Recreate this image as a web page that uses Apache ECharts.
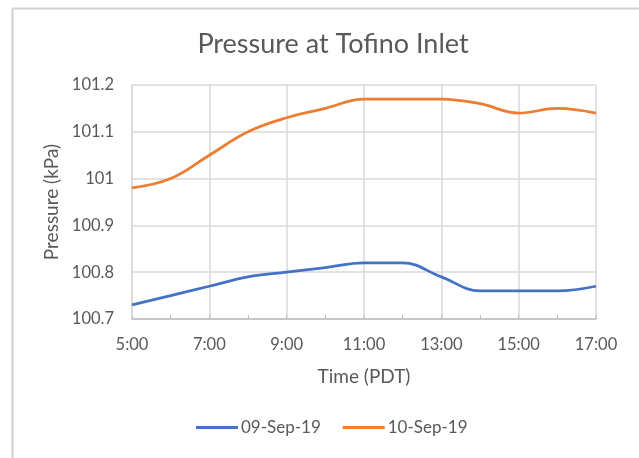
<!DOCTYPE html>
<html>
<head>
<meta charset="utf-8">
<script src="https://cdn.jsdelivr.net/npm/echarts@6/dist/echarts.min.js"></script>
<style>
html,body{margin:0;padding:0;background:#fff;}
#chart{width:639px;height:458px;}
</style>
</head>
<body>
<div id="chart"></div>
<script>
const categories = ['5:00','6:00','7:00','8:00','9:00','10:00','11:00','12:00','13:00','14:00','15:00','16:00','17:00'];
const sep09 = [100.73,100.75,100.77,100.79,100.80,100.81,100.82,100.82,100.79,100.76,100.76,100.76,100.77];
const sep10 = [100.98,101.00,101.05,101.10,101.13,101.15,101.17,101.17,101.17,101.16,101.14,101.15,101.14];
const yTicks = [100.7,100.8,100.9,101,101.1,101.2];

const FONT = 'Lato';
const TXT = '#595959';
const chart = echarts.init(document.getElementById('chart'));
chart.setOption({
  animation: false,
  backgroundColor: '#fff',
  textStyle: {fontFamily: FONT},
  title: {
    text: 'Pressure at Tofino Inlet',
    left: 328, textAlign: 'center', top: 26,
    textStyle: {fontFamily: FONT, fontSize: 27, fontWeight: 'normal', color: TXT}
  },
  graphic: [
    {type: 'line', shape: {x1: 12.5, y1: 8.5, x2: 639, y2: 8.5}, style: {stroke: '#d0d0d0', lineWidth: 2}},
    {type: 'line', shape: {x1: 12.5, y1: 8.5, x2: 12.5, y2: 458}, style: {stroke: '#d0d0d0', lineWidth: 2}}
  ],
  legend: {
    bottom: 17, left: 191,
    itemWidth: 42, itemHeight: 3, itemGap: 22,
    icon: 'rect',
    textStyle: {fontFamily: FONT, fontSize: 17, color: TXT, padding: [0,0,0,-2]},
    data: ['09-Sep-19','10-Sep-19']
  },
  grid: {left: 132, right: 43, top: 85, bottom: 139},
  xAxis: {
    type: 'category', data: categories, boundaryGap: false,
    name: 'Time (PDT)', nameLocation: 'middle', nameGap: 48,
    nameTextStyle: {fontFamily: FONT, fontSize: 19, color: TXT},
    axisLine: {lineStyle: {color: '#bfbfbf', width: 1.5}},
    axisTick: {show: true, inside: true, length: 4, interval: 0, lineStyle: {color: '#bfbfbf'}},
    axisLabel: {interval: 1, margin: 17, fontFamily: FONT, fontSize: 16.5, color: TXT},
    splitLine: {show: true, interval: 1, lineStyle: {color: '#d9d9d9', width: 1.5}}
  },
  yAxis: {
    type: 'value', min: yTicks[0], max: yTicks[yTicks.length-1], interval: 0.1,
    name: 'Pressure (kPa)', nameLocation: 'middle', nameGap: 70,
    nameTextStyle: {fontFamily: FONT, fontSize: 19, color: TXT},
    axisLine: {show: true, lineStyle: {color: '#d9d9d9', width: 1.5}},
    axisTick: {show: false},
    axisLabel: {margin: 18, fontFamily: FONT, fontSize: 16.5, color: TXT,
      formatter: v => String(Math.round(v*10)/10)},
    splitLine: {show: true, lineStyle: {color: '#d9d9d9', width: 1.5}}
  },
  series: [
    {name: '09-Sep-19', type: 'line', data: sep09, smooth: 0.4, symbol: 'none',
      lineStyle: {color: '#4472C4', width: 2.75}, itemStyle: {color: '#4472C4'}},
    {name: '10-Sep-19', type: 'line', data: sep10, smooth: 0.4, symbol: 'none',
      lineStyle: {color: '#ED7D31', width: 2.75}, itemStyle: {color: '#ED7D31'}}
  ]
});
</script>
</body>
</html>
